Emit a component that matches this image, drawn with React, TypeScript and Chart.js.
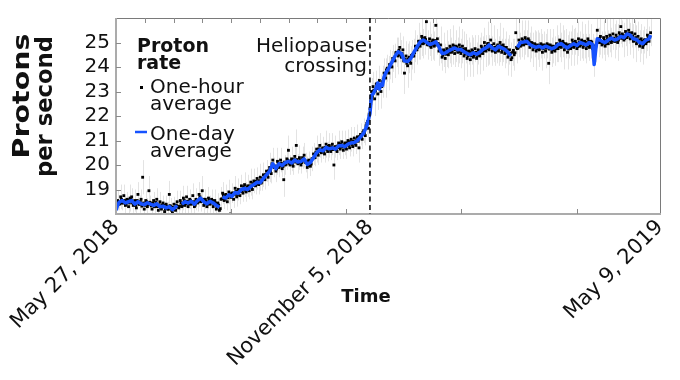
import React, { useEffect, useRef } from 'react';
import { Chart, registerables } from 'chart.js';

Chart.register(...registerables);

// Days counted from May 27, 2018
const xTickDays = [0, 162, 347];
const xTickLabels = ['May 27, 2018', 'November 5, 2018', 'May 9, 2019'];
const yTickValues = [19, 20, 21, 22, 23, 24, 25];
const crossingDay = 162;
const minorTickStepDays = 18.36;

// One-day average (null = data gap)
const dailyDays = [
  0, 1, 2, 4, 6, 8, 10, 12, 14, 16, 18, 20, 22, 24, 26, 28, 30, 32, 34, 36, 38, 39, 40.5,
  42, 44, 46, 48, 50, 52, 54, 56, 58, 60, 62, 64, 66, 67,
  68, 70, 72, 74, 76, 78, 80, 82, 84, 86, 88, 90, 92, 94, 96, 98, 100, 102, 104, 106, 108,
  110, 112, 114, 116, 118, 120, 122, 124, 126, 128, 130, 132, 134, 136, 138, 140, 142, 144,
  146, 148, 150, 152, 154, 156, 158, 160, 161, 162, 163, 164, 166, 167, 168, 169, 170, 171,
  172, 174, 176, 178, 180, 182, 184, 186, 188, 190, 192, 194, 196, 198, 200, 202, 204, 206,
  208, 210, 212, 214, 216, 218, 220, 222, 224, 226, 228, 230, 232, 234, 236, 238, 240, 242,
  244, 246, 248, 250, 252, 254,
  256, 258, 260, 262, 264, 266, 268, 270, 272, 274, 276, 278, 280, 282, 284, 286, 288, 290,
  292, 294, 296, 298, 300, 302, 304, 305, 306, 307, 308, 310, 312, 314, 316, 318, 320, 322,
  324, 326, 328, 330, 332, 334, 336, 338, 340, 341,
];
const dailyValues = [
  18.15, 18.35, 18.48, 18.55, 18.45, 18.5, 18.55, 18.4, 18.5, 18.42, 18.38, 18.46, 18.4, 18.35, 18.42, 18.3, 18.32, 18.25, 18.3, 18.18, 18.28, 18.35, null,
  18.4, 18.5, 18.45, 18.52, 18.4, 18.55, 18.65, 18.5, 18.42, 18.52, 18.45, 18.35, 18.28, null,
  18.7, 18.65, 18.78, 18.72, 18.88, 18.85, 19.0, 19.05, 19.0, 19.12, 19.2, 19.3, 19.28, 19.45, 19.6, 19.75, 20.05, 19.85, 20.05, 19.98, 20.1,
  20.15, 20.08, 20.2, 20.12, 20.15, 20.25, 20.02, 20.1, 20.3, 20.5, 20.62, 20.58, 20.72, 20.66, 20.7, 20.65, 20.78, 20.8,
  20.75, 20.85, 20.9, 20.92, 21.0, 21.15, 21.3, 21.6, 21.85, 22.1, 22.85, 22.9, 23.15, 23.35, 23.1, 23.3, 23.25, 23.6,
  23.75, 23.95, 24.2, 24.45, 24.62, 24.55, 24.25, 24.22, 24.35, 24.6, 24.82, 25.02, 25.1, 25.02, 24.92, 24.96, 25.03, 24.82,
  24.55, 24.57, 24.65, 24.72, 24.78, 24.7, 24.72, 24.62, 24.55, 24.5, 24.58, 24.52, 24.6, 24.72, 24.78, 24.9, 24.78, 24.7,
  24.85, 24.78, 24.72, 24.6, 24.45, null,
  24.8, 25.0, 25.02, 25.05, 24.92, 24.85, 24.8, 24.85, 24.78, 24.85, 24.8, 24.75, 24.8, 24.92, 24.95, 24.85, 24.78, 24.88,
  24.95, 24.88, 25.0, 24.95, 24.9, 25.0, 24.92, 24.1, 24.7, 25.15, 25.12, 25.05, 25.0, 25.1, 25.18, 25.1, 25.15, 25.25,
  25.2, 25.35, 25.3, 25.15, 25.12, 25.0, 24.95, 25.1, 25.15, 25.3,
];

// One-hour average samples (with error bars), one per day starting at day 0
const hourlyValues = [
  18.25, 18.55, 18.4, 18.7, 18.45, 18.75, 18.35, 18.6, 18.3, 18.65,
  18.7, 18.35, 18.55, 18.25, 18.8, 18.4, 18.6, 19.5, 18.2, 18.55,
  18.3, 18.95, 18.45, 18.2, 18.55, 18.3, 18.6, 18.15, 18.5, 18.2,
  18.45, 18.1, 18.4, 18.2, 18.8, 18.3, 18.05, 18.4, 18.15, 18.5,
  18.25, 18.55, 18.3, 18.65, 18.35, 18.7, 18.3, 18.6, 18.4, 18.75,
  18.3, 18.6, 18.45, 18.8, 18.5, 18.95, 18.35, 18.6, 18.3, 18.65,
  18.4, 18.6, 18.3, 18.55, 18.2, 18.45, 18.15, 18.6, 18.85, 18.55,
  18.8, 18.5, 18.9, 18.0, 18.85, 18.6, 19.05, 18.7, 19.0, 18.75,
  19.15, 18.85, 19.2, 18.9, 19.15, 18.95, 19.3, 19.0, 19.35, 19.15,
  19.45, 19.2, 19.5, 19.3, 19.6, 19.4, 19.75, 19.5, 19.9, 19.65,
  20.2, 19.9, 19.75, 20.15, 19.9, 20.2, 19.85, 19.4, 20.0, 20.25,
  20.6, 20.0, 20.25, 19.95, 20.35, 20.8, 20.05, 20.3, 20.0, 20.3,
  20.4, 20.1, 19.9, 20.2, 19.95, 20.25, 20.45, 20.3, 20.65, 20.4,
  20.8, 20.5, 20.7, 20.45, 20.85, 20.55, 20.8, 20.55, 20.85, 20.0,
  20.75, 20.55, 20.9, 20.65, 20.95, 20.6, 20.9, 20.65, 21.0, 20.7,
  21.05, 20.75, 21.1, 20.8, 21.15, 20.7, 21.25, 21.05, 21.4, 21.2,
  21.7, 21.5, 22.3, 23.0, 23.2, 22.7, 23.3, 22.9, 23.45, 23.0,
  23.4, 23.75, 23.55, 23.95, 23.75, 24.1, 24.0, 24.35, 24.25, 24.6,
  24.45, 24.8, 24.4, 24.7, 23.75, 24.45, 24.05, 24.4, 24.15, 24.5,
  24.45, 24.85, 24.7, 25.05, 24.85, 25.25, 24.95, 25.2, 25.85, 24.9,
  25.15, 24.8, 25.1, 24.85, 25.7, 25.15, 24.65, 24.9, 24.4, 24.7,
  24.35, 24.75, 24.5, 24.85, 24.6, 24.9, 24.55, 24.85, 24.6, 24.9,
  24.55, 24.85, 24.45, 24.75, 24.35, 24.65, 24.3, 24.7, 24.4, 24.75,
  24.35, 24.7, 24.45, 24.85, 24.55, 25.0, 24.65, 24.95, 24.7, 25.1,
  24.65, 24.95, 24.6, 24.85, 24.65, 25.0, 24.6, 24.9, 24.55, 24.8,
  24.4, 24.7, 24.3, 24.6, 24.5, 25.4, 24.75, 25.1, 24.85, 25.15,
  24.9, 25.2, 24.95, 25.15, 24.8, 25.0, 24.7, 24.95, 24.65, 24.9,
  24.7, 24.95, 24.6, 24.9, 24.65, 24.95, 24.15, 24.9, 24.6, 24.85,
  24.65, 24.95, 24.75, 25.1, 24.8, 25.05, 24.7, 24.95, 24.6, 24.9,
  24.75, 25.1, 24.8, 25.05, 24.75, 25.15, 24.85, 25.1, 24.8, 25.05,
  24.75, 25.15, 24.8, 25.05, 24.75, 24.4, 24.85, 25.5, 25.0, 25.25,
  24.9, 25.2, 24.85, 25.25, 24.95, 25.3, 25.0, 25.35, 25.05, 25.3,
  25.0, 25.4, 25.65, 25.35, 25.1, 25.45, 25.2, 25.5, 25.15, 25.4,
  25.05, 25.35, 24.95, 25.25, 24.85, 25.15, 24.8, 25.1, 24.95, 25.3,
  25.05, 25.4,
];
const hourlyErrors = [
  0.3, 0.4, 0.25, 0.5, 0.3, 0.45, 0.35, 0.3, 0.4, 0.55,
  0.35, 0.3, 0.45, 0.3, 0.5, 0.35, 0.4, 0.7, 0.3, 0.4,
  0.35, 0.6, 0.3, 0.4, 0.35, 0.3, 0.45, 0.3, 0.4, 0.35,
  0.3, 0.4, 0.35, 0.3, 0.55, 0.35, 0.4, 0.3, 0.35, 0.45,
  0.35, 0.4, 0.3, 0.5, 0.35, 0.45, 0.3, 0.4, 0.35, 0.5,
  0.3, 0.45, 0.35, 0.5, 0.4, 0.6, 0.35, 0.4, 0.3, 0.45,
  0.35, 0.4, 0.3, 0.45, 0.35, 0.4, 0.3, 0.5, 0.45, 0.35,
  0.4, 0.35, 0.5, 0.6, 0.4, 0.35, 0.5, 0.4, 0.45, 0.35,
  0.45, 0.35, 0.5, 0.4, 0.45, 0.35, 0.55, 0.4, 0.5, 0.35,
  0.45, 0.4, 0.55, 0.35, 0.5, 0.4, 0.45, 0.35, 0.6, 0.4,
  0.5, 0.4, 0.45, 0.55, 0.4, 0.5, 0.35, 0.7, 0.4, 0.45,
  0.6, 0.4, 0.5, 0.35, 0.45, 0.65, 0.4, 0.5, 0.35, 0.45,
  0.5, 0.4, 0.45, 0.35, 0.4, 0.5, 0.45, 0.35, 0.55, 0.4,
  0.5, 0.4, 0.45, 0.35, 0.55, 0.4, 0.5, 0.35, 0.45, 0.6,
  0.45, 0.35, 0.5, 0.4, 0.45, 0.35, 0.5, 0.4, 0.45, 0.35,
  0.5, 0.4, 0.45, 0.35, 0.5, 0.6, 0.45, 0.4, 0.5, 0.4,
  0.45, 0.5, 0.6, 0.55, 0.6, 0.7, 0.55, 0.65, 0.6, 0.7,
  0.65, 0.6, 0.8, 0.55, 0.7, 0.6, 0.65, 0.55, 0.7, 0.6,
  0.75, 0.6, 0.7, 0.55, 0.85, 0.6, 0.9, 0.65, 0.7, 0.6,
  0.7, 0.65, 0.6, 0.75, 0.55, 0.8, 0.6, 0.7, 0.9, 0.6,
  0.7, 0.55, 0.8, 0.6, 0.85, 0.65, 0.6, 0.75, 0.55, 0.7,
  0.6, 0.75, 0.55, 0.7, 0.6, 0.8, 0.55, 0.65, 0.6, 0.75,
  0.6, 0.7, 1.0, 0.6, 0.75, 0.55, 0.7, 0.6, 0.8, 0.55,
  0.65, 0.6, 0.75, 0.55, 0.7, 0.6, 0.65, 0.9, 0.6, 0.7,
  0.6, 0.75, 0.55, 0.7, 0.6, 0.8, 0.55, 0.7, 0.6, 0.65,
  0.75, 0.6, 0.7, 0.55, 0.65, 0.8, 0.6, 0.7, 0.55, 0.75,
  0.6, 0.7, 0.55, 0.75, 0.6, 0.65, 0.7, 0.55, 0.8, 0.6,
  0.7, 0.6, 0.75, 0.55, 0.7, 0.6, 0.85, 0.65, 0.6, 0.7,
  0.6, 0.75, 0.55, 0.7, 0.6, 0.65, 0.8, 0.6, 0.7, 0.55,
  0.7, 0.6, 0.75, 0.55, 0.65, 0.7, 0.6, 0.75, 0.55, 0.7,
  0.6, 0.75, 0.55, 0.7, 0.6, 0.8, 0.65, 0.7, 0.6, 0.75,
  0.55, 0.7, 0.6, 0.75, 0.55, 0.7, 0.6, 0.65, 0.7, 0.6,
  0.75, 0.6, 0.7, 0.55, 0.7, 0.6, 0.75, 0.55, 0.65, 0.6,
  0.7, 0.55, 0.75, 0.6, 0.65, 0.6, 0.7, 0.55, 0.6, 0.65,
  0.6, 0.55,
];
const hourlyDays = hourlyValues.map((_, i) => i);

// Further one-hour samples, half a day after each of the above
const hourlyValuesB = [
  18.35, 18.5, 18.42, 18.6, 18.45, 18.55, 18.4, 18.58, 18.45, 18.62,
  18.45, 18.5, 18.35, 18.55, 18.4, 18.5, 18.32, 18.45, 18.35, 18.5,
  18.38, 18.48, 18.33, 18.44, 18.3, 18.47, 18.3, 18.38, 18.25, 18.37,
  18.36, 18.22, 18.32, 18.2, 18.34, 18.15, 18.27, 18.18, 18.36, 18.3,
  18.32, 18.45, 18.36, 18.55, 18.42, 18.52, 18.4, 18.56, 18.42, 18.5,
  18.36, 18.56, 18.5, 18.7, 18.55, 18.6, 18.42, 18.52, 18.4, 18.56,
  18.45, 18.55, 18.38, 18.45, 18.28, 18.36, 18.22, 18.62, 18.76, 18.6,
  18.75, 18.66, 18.82, 18.68, 18.86, 18.8, 18.93, 18.8, 18.98, 18.92,
  18.95, 19.1, 18.97, 19.08, 18.98, 19.15, 19.08, 19.24, 19.17, 19.33,
  19.25, 19.36, 19.26, 19.46, 19.44, 19.62, 19.58, 19.77, 19.76, 20.05,
  19.93, 19.96, 19.84, 20.06, 19.97, 20.07, 19.94, 20.12, 20.03, 20.2,
  20.07, 20.17, 20.04, 20.22, 20.12, 20.22, 20.08, 20.19, 20.1, 20.26,
  20.15, 20.16, 19.98, 20.12, 20.04, 20.26, 20.3, 20.52, 20.49, 20.66,
  20.54, 20.66, 20.55, 20.72, 20.64, 20.77, 20.62, 20.74, 20.63, 20.73,
  20.62, 20.78, 20.71, 20.85, 20.73, 20.82, 20.71, 20.9, 20.8, 20.95,
  20.84, 20.97, 20.87, 21.03, 20.97, 21.17, 21.12, 21.33, 21.32, 21.6,
  21.78, 22.05, 22.6, 22.8, 23.05, 23.02, 23.32, 23.12, 23.28, 23.2,
  23.5, 23.62, 23.88, 23.82, 24.1, 24.02, 24.35, 24.3, 24.58, 24.52,
  24.68, 24.5, 24.55, 24.25, 24.32, 24.15, 24.33, 24.22, 24.47, 24.45,
  24.58, 24.83, 24.8, 25.05, 24.96, 25.16, 25.0, 25.12, 24.92, 25.02,
  24.86, 25.02, 24.9, 25.08, 24.9, 24.96, 24.68, 24.68, 24.48, 24.64,
  24.52, 24.7, 24.6, 24.78, 24.66, 24.85, 24.7, 24.8, 24.63, 24.78,
  24.63, 24.73, 24.53, 24.64, 24.46, 24.6, 24.45, 24.64, 24.48, 24.6,
  24.47, 24.65, 24.56, 24.78, 24.67, 24.85, 24.75, 24.96, 24.8, 24.88,
  24.69, 24.8, 24.68, 24.9, 24.76, 24.87, 24.69, 24.8, 24.6, 24.7,
  24.48, 24.56, 24.38, 24.68, 24.58, 24.8, 24.78, 24.97, 24.9, 25.08,
  24.95, 25.1, 24.96, 25.07, 24.88, 24.97, 24.8, 24.9, 24.74, 24.88,
  24.77, 24.9, 24.74, 24.89, 24.77, 24.9, 24.73, 24.85, 24.7, 24.84,
  24.75, 24.93, 24.83, 25.0, 24.86, 24.97, 24.8, 24.9, 24.73, 24.9,
  24.83, 25.0, 24.87, 24.97, 24.83, 25.02, 24.92, 25.05, 24.89, 25.0,
  24.86, 25.05, 24.9, 25.01, 24.86, 24.6, 24.97, 25.07, 25.17, 25.0,
  24.97, 25.1, 24.95, 25.15, 25.06, 25.23, 25.07, 25.18, 25.05, 25.2,
  25.1, 25.29, 25.17, 25.28, 25.16, 25.36, 25.27, 25.38, 25.2, 25.27,
  25.07, 25.2, 25.03, 25.11, 24.93, 25.05, 24.9, 25.11, 25.03, 25.2,
  25.22,
];
const hourlyDaysB = hourlyValuesB.map((_, i) => i + 0.5);

const FONT = '"DejaVu Sans", sans-serif';
const BLUE = '#1652ff';

const decorPlugin = {
  id: 'decor',
  beforeDatasetsDraw(chart: any) {
    const { ctx, chartArea: a, scales } = chart;
    const x = scales.x, y = scales.y;
    ctx.save();
    ctx.beginPath();
    ctx.rect(a.left, a.top, a.right - a.left, a.bottom - a.top);
    ctx.clip();
    ctx.strokeStyle = 'rgba(200,200,200,0.5)';
    ctx.lineWidth = 1;
    hourlyValues.forEach((v, i) => {
      const px = Math.round(x.getPixelForValue(hourlyDays[i])) + 0.5;
      ctx.beginPath();
      ctx.moveTo(px, y.getPixelForValue(v - hourlyErrors[i]));
      ctx.lineTo(px, y.getPixelForValue(v + hourlyErrors[i]));
      ctx.stroke();
    });
    ctx.restore();
  },
  afterDatasetsDraw(chart: any) {
    const { ctx, chartArea: a, scales } = chart;
    const x = scales.x, y = scales.y;
    ctx.save();
    // frame
    ctx.strokeStyle = '#7a7a7a';
    ctx.lineWidth = 1;
    ctx.beginPath();
    ctx.moveTo(a.left, a.top + 0.5);
    ctx.lineTo(a.right + 0.5, a.top + 0.5);
    ctx.lineTo(a.right + 0.5, a.bottom);
    ctx.stroke();
    ctx.strokeStyle = '#ababab';
    ctx.lineWidth = 2;
    ctx.beginPath();
    ctx.moveTo(a.left, a.top);
    ctx.lineTo(a.left, a.bottom);
    ctx.lineTo(a.right + 1, a.bottom);
    ctx.stroke();
    // ticks
    ctx.strokeStyle = '#8a8a8a';
    ctx.lineWidth = 1;
    yTickValues.forEach((v) => {
      const py = Math.round(y.getPixelForValue(v)) + 0.5;
      ctx.beginPath();
      ctx.moveTo(a.left, py);
      ctx.lineTo(a.left + 5, py);
      ctx.stroke();
    });
    let k = 1;
    for (let d = minorTickStepDays; d < x.max; d += minorTickStepDays, k++) {
      const px = Math.round(x.getPixelForValue(d)) + 0.5;
      ctx.beginPath();
      ctx.moveTo(px, a.top);
      ctx.lineTo(px, a.top + 5);
      ctx.stroke();
      if (k % 4 === 0) {
        ctx.beginPath();
        ctx.moveTo(px, a.bottom);
        ctx.lineTo(px, a.bottom - 5);
        ctx.stroke();
      }
    }
    // heliopause crossing
    const cx = x.getPixelForValue(crossingDay);
    ctx.strokeStyle = '#000';
    ctx.lineWidth = 1.5;
    ctx.setLineDash([5, 3.5]);
    ctx.beginPath();
    ctx.moveTo(cx, a.top);
    ctx.lineTo(cx, a.bottom);
    ctx.stroke();
    ctx.setLineDash([]);
    ctx.restore();
  },
  afterDraw(chart: any) {
    const { ctx, chartArea: a, scales } = chart;
    const x = scales.x;
    const cx = x.getPixelForValue(crossingDay);
    ctx.save();
    ctx.fillStyle = '#111';
    ctx.textBaseline = 'alphabetic';
    // annotation
    ctx.font = `20px ${FONT}`;
    ctx.textAlign = 'right';
    ctx.fillText('Heliopause', cx - 3, a.top + 34);
    ctx.fillText('crossing', cx - 3, a.top + 54);
    // legend
    ctx.textAlign = 'left';
    ctx.font = `bold 19px ${FONT}`;
    ctx.fillText('Proton', a.left + 21, a.top + 34);
    ctx.fillText('rate', a.left + 21, a.top + 51);
    ctx.fillStyle = '#000';
    ctx.fillRect(a.left + 24, a.top + 68, 3, 3);
    ctx.fillStyle = '#111';
    ctx.font = `20px ${FONT}`;
    ctx.fillText('One-hour', a.left + 34, a.top + 75);
    ctx.fillText('average', a.left + 34, a.top + 92);
    ctx.strokeStyle = BLUE;
    ctx.lineWidth = 2.5;
    ctx.beginPath();
    ctx.moveTo(a.left + 19, a.top + 114);
    ctx.lineTo(a.left + 31, a.top + 114);
    ctx.stroke();
    ctx.fillText('One-day', a.left + 34, a.top + 122);
    ctx.fillText('average', a.left + 34, a.top + 139);
    // x title
    ctx.font = `bold 18px ${FONT}`;
    ctx.textAlign = 'center';
    ctx.textBaseline = 'middle';
    ctx.fillText('Time', cx - 4, 297);
    // y title
    ctx.font = `bold 23px ${FONT}`;
    ctx.textBaseline = 'alphabetic';
    const lines: [string, number, number, number][] = [
      ['Protons', 28.5, 96, 125],
      ['per second', 52, 106.5, 141],
    ];
    lines.forEach(([t, bx, cy, len]) => {
      const w = ctx.measureText(t).width;
      ctx.save();
      ctx.translate(bx, cy);
      ctx.rotate(-Math.PI / 2);
      ctx.scale(len / w, 1);
      ctx.fillText(t, 0, 0);
      ctx.restore();
    });
    ctx.restore();
  },
};

export default function App() {
  const ref = useRef<HTMLCanvasElement>(null);
  useEffect(() => {
    document.body.style.margin = '0';
    const canvas = ref.current!;
    const chart = new Chart(canvas, {
      type: 'scatter',
      data: {
        datasets: [
          {
            type: 'line',
            label: 'One-day average',
            data: dailyDays.map((d, i) => ({ x: d, y: dailyValues[i] })) as any,
            borderColor: BLUE,
            borderWidth: 3.5,
            pointRadius: 0,
            tension: 0,
            spanGaps: false,
            borderJoinStyle: 'round',
            order: 0,
          },
          {
            type: 'scatter',
            label: 'One-hour average',
            data: hourlyDays
              .map((d, i) => ({ x: d, y: hourlyValues[i] }))
              .concat(hourlyDaysB.map((d, i) => ({ x: d, y: hourlyValuesB[i] }))),
            backgroundColor: '#000',
            borderWidth: 0,
            pointStyle: 'rect',
            pointRadius: 2,
            order: 1,
          },
        ],
      },
      options: {
        responsive: false,
        animation: false,
        layout: { padding: { left: 0, top: 16, right: 20, bottom: 0 } },
        plugins: { legend: { display: false }, tooltip: { enabled: false } },
        scales: {
          x: {
            type: 'linear',
            min: 0,
            max: 347,
            afterBuildTicks: (s: any) => {
              s.ticks = xTickDays.map((v) => ({ value: v }));
            },
            afterFit: (s: any) => {
              s.height = 166;
            },
            grid: { display: false, drawTicks: false },
            border: { display: false },
            ticks: {
              autoSkip: false,
              minRotation: 45,
              maxRotation: 45,
              padding: 1,
              color: '#111',
              font: { family: FONT, size: 21 },
              callback: (v: any) => {
                const i = xTickDays.indexOf(Number(v));
                return i >= 0 ? xTickLabels[i] : '';
              },
            },
          },
          y: {
            type: 'linear',
            min: 18,
            max: 26,
            afterBuildTicks: (s: any) => {
              s.ticks = yTickValues.map((v) => ({ value: v }));
            },
            afterFit: (s: any) => {
              s.width = 116;
            },
            grid: { display: false, drawTicks: false },
            border: { display: false },
            ticks: {
              padding: 6,
              color: '#111',
              font: { family: FONT, size: 20 },
            },
          },
        },
      },
      plugins: [decorPlugin],
    });
    return () => chart.destroy();
  }, []);
  return <canvas ref={ref} width={680} height={380} style={{ display: 'block' }} />;
}
